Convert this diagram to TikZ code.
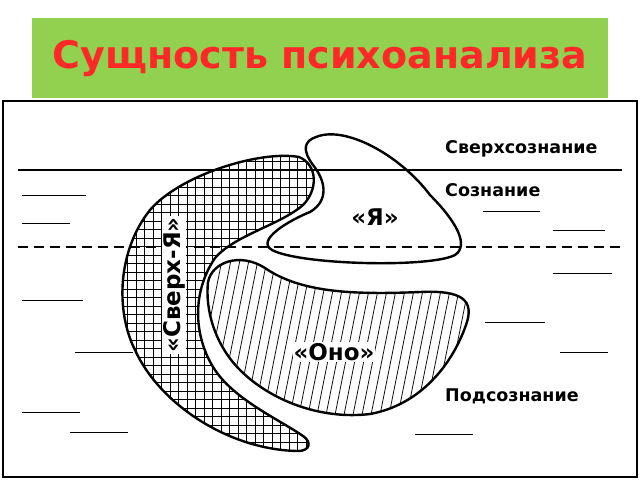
\documentclass[tikz,border=0pt]{standalone}
\usepackage{fontspec}
\setmainfont{DejaVu Sans}
\begin{document}
\begin{tikzpicture}[x=1pt,y=-1pt,
  shape line/.style={draw=black,line width=2.4pt},
  level text/.style={font=\bfseries\fontsize{17.5}{20}\selectfont,anchor=west,inner sep=0pt},
  part text/.style={font=\bfseries\fontsize{23}{26}\selectfont,inner sep=0pt},
  stroke/.style={line width=0.9pt}]
 \useasboundingbox (0,0) rectangle (640,480);
 \fill[white] (0,0) rectangle (640,480);
 % title
 \node (title box) at (320,58) [fill={rgb,255:red,146;green,208;blue,80},minimum width=576pt,minimum height=80pt,inner sep=0pt] {};
 \node (title) at (title box.center) [text={rgb,255:red,255;green,40;blue,40},font=\bfseries\fontsize{38}{42}\selectfont] {Сущность психоанализа};
 \draw[line width=2pt] (3,101) rectangle (637,477);
 % short strokes
 \foreach \xa/\xb/\yy in {22/86/195, 22/70/223, 483/540/211, 553/605/230, 553/612/273,
   22/83/300, 485/545/322, 75/133/352, 560/608/352, 22/80/412, 70/128/432, 415/473/434}
   \draw[stroke] (\xa,\yy) -- (\xb,\yy);
 % super-ego
 \def\superpath{(299,157) .. controls (260,150) and (180,175) .. (150,210)
   .. controls (118,250) and (115,310) .. (135,350)
   .. controls (160,405) and (230,450) .. (298,451)
   .. controls (310,451) and (312,442) .. (303,436)
   .. controls (280,420) and (235,400) .. (215,370)
   .. controls (195,340) and (190,295) .. (215,258)
   .. controls (235,235) and (280,225) .. (303,205)
   .. controls (318,190) and (318,165) .. cycle}
 \begin{scope}
  \clip \superpath;
  \draw[line width=0.7pt,step=8.5pt] (100,130) grid (330,460);
 \end{scope}
 \draw[shape line,fill=none] \superpath;
 % ego
 \draw[shape line,fill=white] (316,137) .. controls (345,125) and (400,155) .. (430,195)
   .. controls (455,220) and (470,245) .. (455,255)
   .. controls (430,268) and (300,265) .. (272,250)
   .. controls (255,240) and (290,220) .. (310,212)
   .. controls (330,200) and (325,180) .. (313,165)
   .. controls (302,150) and (304,141) .. cycle;
 % id
 \def\idpath{(208,282) .. controls (212,262) and (240,252) .. (265,268)
   .. controls (300,292) and (350,295) .. (420,292)
   .. controls (462,290) and (475,300) .. (466,325)
   .. controls (452,365) and (420,405) .. (370,414)
   .. controls (320,420) and (270,400) .. (240,370)
   .. controls (215,345) and (205,310) .. cycle}
 \begin{scope}
  \clip \idpath;
  \foreach \k in {0,...,40}
   \draw[line width=0.7pt] (150+9*\k,440) -- (190+9*\k,240);
 \end{scope}
 \draw[shape line] \idpath;
 % level lines
 \coordinate (solid l) at (18,170);
 \coordinate (solid r) at (622,170);
 \coordinate (dash l) at (18,247);
 \coordinate (dash r) at (622,247);
 \draw[line width=2.4pt] (solid l) -- (solid r);
 \draw[line width=2.4pt,dash pattern=on 10pt off 6pt] (dash l) -- (dash r);
 \node (super) at (445,149) [level text] {Сверхсознание};
 \node (consc) at (445,190) [level text] {Сознание};
 \node (subc) at (445,396) [level text] {Подсознание};
 % part labels
 \node (ego) at (375,217) [part text,fill=white] {«Я»};
 \node (id) at (334,352) [part text,fill=white,inner sep=1pt] {«Оно»};
 \node (superego) at (174,285) [part text,fill=white,rotate=90,inner sep=1pt] {«Сверх-Я»};
\end{tikzpicture}
\end{document}
